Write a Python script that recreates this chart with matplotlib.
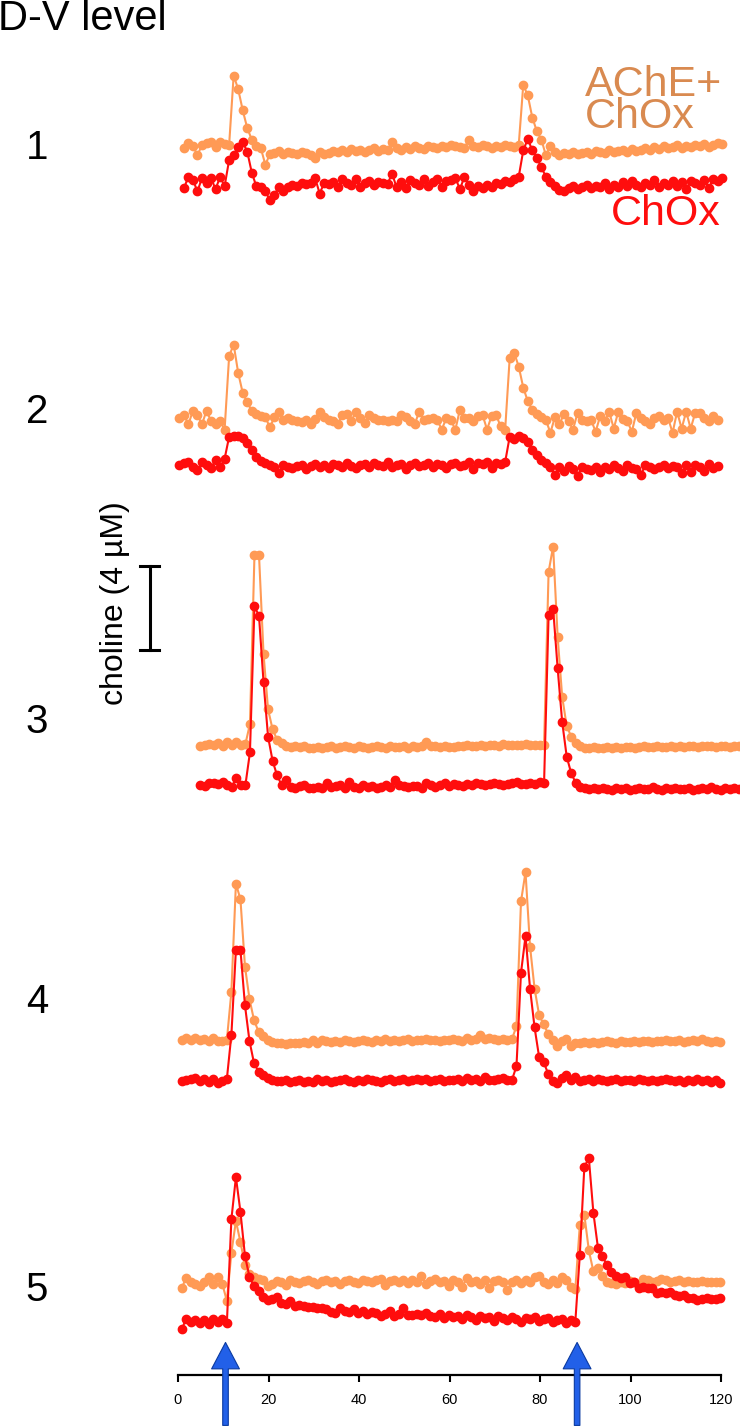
import numpy as np
import matplotlib
matplotlib.use("Agg")
import matplotlib.pyplot as plt

plt.rcParams["font.family"] = ["Liberation Sans", "DejaVu Sans"]

# choline traces, uM relative to each trace's own baseline, sampled at 1 Hz
panel_labels = ["1", "2", "3", "4", "5"]
panel_t0 = [1.3, 0.3, 4.9, 0.8, 0.8]   # time of first sample (s)

p1_ache = [0.0, 0.25, 0.1, -0.35, 0.15, 0.25, 0.3, 0.05, 0.3, 0.2, 0.15,
           3.45, 2.8, 1.8, 0.95, 0.4, 0.1, 0.0, -0.8, -0.3,
           -0.25, -0.15, -0.3, -0.2, -0.25, -0.3, -0.2, -0.25, -0.35, -0.5,
           -0.2, -0.3, -0.25, -0.15, -0.2, -0.1, -0.2, -0.05, -0.15, -0.1,
           -0.2, -0.1, 0.0, -0.15, -0.05, -0.1, 0.3, 0.0, -0.1, 0.05,
           -0.05, 0.1, 0.0, -0.05, 0.1, 0.05, 0.0, 0.1, 0.05, 0.15,
           0.1, 0.05, 0.0, 0.4, 0.1, 0.05, 0.15, 0.1, 0.0, 0.1,
           0.05, 0.15, 0.1, 0.05, 0.15,
           3.0, 2.5, 1.45, 0.8, 0.4, -0.35, 0.1,
           -0.2, -0.35, -0.25, -0.3, -0.2, -0.3, -0.25, -0.2, -0.3, -0.15,
           -0.2, -0.25, -0.1, -0.2, -0.15, -0.1, -0.2, -0.05, -0.15, -0.1,
           0.0, -0.1, 0.05, -0.05, 0.1, 0.0, 0.05, 0.15, 0.0, 0.1,
           0.05, 0.15, 0.1, 0.2, 0.05, 0.15, 0.25, 0.2]
p1_chox = [-0.25, 0.3, 0.15, -0.4, 0.25, 0.0, 0.25, -0.3, 0.3, -0.15,
           1.1, 1.35, 1.7, 1.95,
           1.5, 0.5, -0.15, -0.2, -0.4, -0.8, -0.55, -0.2, -0.4, -0.2,
           -0.1, -0.15, 0.0, -0.05, 0.0, 0.25, -0.5, 0.0, -0.05, 0.05,
           -0.2, 0.2, 0.0, -0.1, 0.2, -0.2, 0.0, 0.1, -0.1, 0.05,
           0.0, -0.05, 0.45, -0.2, 0.05, -0.25, 0.15, 0.0, -0.1, 0.2,
           -0.15, 0.05, 0.2, -0.2, 0.1, 0.15, 0.25, -0.3, 0.3, -0.1,
           -0.4, -0.15, -0.25, -0.1, -0.2, 0.0, -0.05, 0.1, 0.05, 0.2,
           0.3,
           1.55, 2.1, 1.55, 1.2, 0.75, 0.3, 0.05, -0.15, -0.35, -0.4,
           -0.25, -0.15, -0.3, -0.2, -0.1, -0.25, -0.15, -0.2, 0.0, -0.3,
           -0.1, -0.2, 0.05, -0.15, 0.1, -0.1, -0.2, 0.0, -0.1, 0.15,
           -0.2, 0.0, -0.1, 0.1, -0.15, 0.05, -0.3, 0.1, 0.0, -0.1,
           0.15, -0.25, 0.2, 0.1, 0.25]

p2_ache = [0.0, 0.15, -0.3, 0.35, 0.15, -0.3, 0.35, -0.15, -0.3, -0.15, -0.55,
           2.95, 3.5, 2.15, 1.2, 0.75, 0.35, 0.2, 0.1, 0.05, -0.45,
           0.05, 0.3, -0.1, 0.0, -0.1, -0.15, -0.2, -0.1, -0.3, -0.05, 0.3,
           0.05, -0.1, -0.15, -0.3, 0.15, 0.2, -0.15, 0.3, 0.0, -0.25,
           0.15, 0.0, -0.1, -0.1, -0.15, -0.1, -0.15, 0.15, 0.05, -0.15,
           -0.3, 0.3, -0.1, -0.05, 0.0, -0.1, -0.55, 0.0, -0.1, -0.55,
           0.4, 0.0, 0.0, -0.15, 0.1, 0.15, -0.55, 0.1, 0.15, -0.4,
           -0.55,
           2.85, 3.1, 2.45, 1.45, 0.8, 0.4, 0.2, 0.05, -0.1, -0.7,
           0.05, -0.3, 0.2, -0.15, -0.55, 0.25, -0.1, -0.15, -0.1, -0.65,
           0.1, -0.15, 0.3, -0.5, 0.3, -0.05, -0.15, -0.65, 0.25, 0.0,
           -0.15, -0.3, 0.0, 0.1, -0.1, 0.0, -0.7, 0.3, -0.5, 0.3,
           -0.5, 0.25, 0.25, 0.0, -0.15, 0.1, -0.1]
p2_chox = [0.0, 0.1, 0.15, -0.1, -0.25, 0.15, 0.0, -0.15, 0.25, -0.1, 0.3,
           1.35, 1.4, 1.4, 1.3, 1.05, 0.7, 0.4, 0.2, 0.1, 0.0, -0.1, -0.4,
           0.0, -0.1, -0.15, -0.05, 0.0, -0.2, -0.05, 0.05, -0.1, 0.0,
           -0.15, 0.05, 0.0, -0.1, 0.1, -0.05, -0.15, 0.0, 0.05, -0.1,
           0.1, 0.0, -0.05, 0.15, -0.1, 0.0, 0.05, -0.2, 0.0, 0.1,
           -0.05, 0.0, 0.1, -0.1, 0.05, 0.0, -0.15, 0.05, 0.1, -0.05,
           0.0, 0.15, -0.2, 0.1, 0.05, 0.15, -0.15, 0.1, 0.05, 0.15,
           1.35, 1.25, 1.4, 1.3, 1.1, 0.7, 0.5, 0.25, 0.1, -0.1, -0.45,
           -0.1, -0.3, -0.05, -0.2, -0.5, -0.1, -0.2, -0.25, -0.1, -0.35,
           -0.1, -0.2, 0.0, -0.15, -0.3, 0.0, -0.15, -0.2, -0.45, 0.0,
           -0.1, -0.2, -0.1, 0.0, -0.15, -0.05, -0.1, -0.4, 0.0, -0.35,
           0.0, -0.1, -0.3, 0.05, -0.15, -0.05]

p3_ache = [0.0, 0.05, 0.1, 0.05, 0.15, 0.0, 0.2, 0.05, 0.2, 0.05, 0.1,
           1.05, 9.1, 9.1, 4.4, 1.75, 0.8, 0.3, 0.15, 0.0,
           -0.05, 0.0, -0.05, 0.0, -0.1, -0.1, -0.05, -0.1, -0.05, 0.0,
           -0.1, -0.05, 0.0, -0.05, -0.1, 0.0, -0.05, -0.1, -0.05, 0.0,
           -0.05, -0.1, 0.0, -0.05, -0.05, 0.0, -0.1, 0.0, -0.05, 0.0,
           0.2, 0.0, 0.0, -0.05, 0.0, -0.05, -0.05, 0.0, 0.0, 0.05,
           0.0, 0.0, 0.05, 0.0, 0.05, 0.05, 0.0, 0.1, 0.05, 0.05,
           0.05, 0.05, 0.1, 0.05, 0.05, 0.05,
           0.05,
           8.3, 9.5, 5.2, 2.35, 0.95, 0.45, 0.15, 0.0, -0.1,
           -0.1, -0.05, -0.1, -0.1, -0.05, -0.1, -0.05, -0.1, -0.05, -0.05,
           -0.1, -0.05, 0.0, -0.05, -0.05, 0.0, -0.05, -0.05, 0.0, -0.05,
           0.0, -0.05, 0.0, 0.0, -0.05, 0.0, 0.0, 0.0, -0.05, 0.0,
           0.0, -0.05, 0.0, 0.0]
p3_chox = [0.0, -0.05, 0.1, 0.1, 0.05, 0.15, 0.0, -0.1, 0.35, 0.0, 0.0,
           1.55, 8.5, 8.05, 4.9, 2.3, 1.15, 0.45, 0.0, 0.25, -0.1, -0.15,
           -0.05, 0.0, -0.15, -0.15, -0.1, -0.15, 0.1, -0.1, -0.05, 0.0,
           -0.15, 0.15, -0.1, -0.15, 0.0, -0.1, -0.05, -0.15, -0.1, 0.0,
           -0.1, 0.25, 0.0, -0.05, -0.1, -0.05, -0.05, -0.15, 0.1, 0.0,
           -0.1, 0.0, 0.1, -0.05, 0.05, 0.0, -0.05, 0.05, 0.0, 0.1,
           0.05, 0.0, 0.05, 0.1, 0.05, 0.0, 0.05, 0.1, 0.15, 0.05,
           0.05, 0.1, 0.05, 0.15,
           0.1,
           8.1, 8.4, 5.55, 3.0, 1.35, 0.55, 0.1, -0.1, -0.15, -0.2,
           -0.15, -0.2, -0.15, -0.2, -0.25, -0.15, -0.2, -0.15, -0.25, -0.2,
           -0.15, -0.2, -0.2, -0.1, -0.2, -0.25, -0.15, -0.2, -0.15, -0.2,
           -0.2, -0.15, -0.25, -0.2, -0.15, -0.2, -0.1, -0.2, -0.25, -0.15,
           -0.2, -0.15, -0.2]

p4_ache = [0.0, 0.1, 0.0, 0.1, 0.0, 0.05, -0.05, 0.1, -0.05, -0.05, 0.0,
           2.3, 7.45, 6.7, 3.5, 1.95, 0.95, 0.4, 0.2,
           0.0, -0.1, -0.15, -0.15, -0.2, -0.15, -0.15, -0.15, -0.1, -0.15,
           0.0, -0.15, 0.0, -0.05, -0.1, -0.05, -0.1, 0.0, -0.05, -0.1,
           -0.05, 0.0, -0.05, -0.1, 0.0, -0.05, 0.05, -0.05, 0.0, -0.05,
           0.0, 0.05, -0.05, 0.0, 0.0, 0.05, 0.0, 0.0, -0.05, 0.0,
           0.0, 0.05, 0.0, -0.05, 0.1, 0.0, 0.05, 0.25, 0.05, 0.1,
           0.05, 0.0, 0.05, 0.0, 0.05,
           0.65,
           6.6, 8.0, 4.45, 2.45, 1.2, 0.75, 0.3,
           0.0, -0.3, -0.05, 0.05, -0.3, -0.15, -0.15, -0.1, -0.15, -0.1,
           -0.15, -0.1, -0.05, -0.1, -0.15, -0.05, -0.1, -0.1, -0.05, -0.1,
           -0.05, -0.05, -0.1, -0.05, -0.05, 0.0, -0.05, -0.05, 0.0, -0.1,
           -0.05, 0.0, -0.05, 0.05, -0.05, -0.1, -0.05, -0.1]
p4_chox = [-0.05, 0.0, 0.05, 0.1, -0.05, 0.05, -0.1, 0.05, -0.15, -0.05, 0.05,
           2.15, 6.2, 6.2, 3.55, 1.85, 0.8, 0.4, 0.25, 0.1,
           0.0, -0.05, -0.05, 0.0, -0.1, -0.05, 0.0, -0.1, -0.05, -0.1,
           0.05, -0.05, 0.0, -0.1, -0.05, 0.0, 0.05, -0.05, -0.1, 0.0,
           -0.05, 0.05, 0.0, -0.05, -0.1, 0.0, 0.05, -0.05, 0.0, 0.05,
           -0.05, 0.0, 0.05, 0.0, 0.05, -0.05, 0.0, 0.05, -0.05, 0.0,
           0.0, 0.05, -0.05, 0.1, 0.0, 0.05, -0.05, 0.15, 0.0, 0.0,
           0.05, 0.1, 0.0, 0.0,
           0.65,
           5.1, 6.85, 4.35, 2.5, 1.1, 0.85, 0.3, -0.05, -0.15,
           0.1, 0.25, 0.0, 0.15, -0.05, 0.0, 0.05, -0.05, 0.05, 0.0,
           -0.05, 0.0, 0.05, -0.05, 0.0, 0.0, -0.05, 0.05, 0.0, -0.05,
           0.0, -0.05, 0.0, 0.05, 0.0, -0.05, 0.0, -0.1, 0.0, -0.05,
           0.05, -0.05, 0.0, -0.1, 0.0, -0.15]

p5_ache = [-0.3, 0.2, 0.0, -0.1, -0.2, 0.0, 0.25, -0.1, 0.25, -0.1,
           -0.9,
           1.4, 2.9, 1.9, 0.8, 0.4, 0.25, 0.15, 0.1, -0.2, -0.1,
           0.05, 0.0, -0.15, 0.1, 0.0, -0.05, 0.05, 0.1, 0.0, -0.1,
           0.05, 0.1, 0.0, 0.05, -0.1, 0.05, 0.1, 0.0, -0.05, 0.1,
           0.05, 0.0, 0.1, 0.15, -0.15, 0.05, 0.1, 0.0, 0.1, -0.05,
           0.1, 0.0, 0.3, -0.1, 0.05, 0.15, 0.0, 0.05, -0.2, 0.1,
           0.0, -0.25, 0.2, 0.0, 0.05, -0.1, 0.1, -0.3, 0.05, 0.1,
           0.0, -0.4, 0.0, 0.1, -0.05, 0.1, 0.0, 0.25, 0.3, 0.0,
           -0.1, 0.1, -0.05, 0.25, 0.1, -0.25, -0.35,
           2.7, 3.2, 1.5, 0.5, 0.65, 0.3, 0.0, -0.05,
           -0.1, 0.0, -0.05, 0.05, 0.0, -0.1, 0.15, 0.1, 0.0, 0.05,
           0.15, 0.1, 0.0, 0.05, 0.1, 0.0, 0.05, 0.0, 0.0, 0.05,
           0.0, 0.0, 0.0, 0.0]
p5_chox = [-0.45, 0.05, -0.1, 0.0, -0.15, 0.0, -0.2, 0.05, -0.1, 0.05, -0.15,
           4.8, 6.8, 5.15, 3.05, 2.05, 1.6, 1.4, 1.1, 0.95, 1.0,
           1.1, 0.8, 0.75, 0.9, 0.65, 0.7, 0.65, 0.6, 0.6, 0.55,
           0.55, 0.5, 0.4, 0.35, 0.55, 0.45, 0.4, 0.5, 0.35, 0.45,
           0.3, 0.4, 0.35, 0.2, 0.3, 0.45, 0.2, 0.3, 0.55, 0.25,
           0.25, 0.3, 0.25, 0.35, 0.2, 0.15, 0.3, 0.1, 0.25, 0.15,
           0.2, 0.05, 0.25, 0.15, 0.0, 0.2, 0.1, 0.15, -0.05, 0.2,
           0.1, 0.0, 0.15, 0.05, -0.1, 0.1, 0.05, 0.15, -0.05, 0.05,
           0.1, -0.1, 0.0, 0.05, -0.15, 0.0, -0.1,
           3.1, 7.3, 7.7, 5.1, 3.45, 3.05, 2.6, 2.3, 2.1, 2.0,
           2.05, 1.75, 1.8, 1.5, 1.55, 1.5, 1.5, 1.3, 1.35, 1.3,
           1.35, 1.2, 1.15, 1.2, 1.05, 1.05, 0.95, 1.0, 1.05, 1.0,
           1.0, 1.05]

ache_traces = [p1_ache, p2_ache, p3_ache, p4_ache, p5_ache]
chox_traces = [p1_chox, p2_chox, p3_chox, p4_chox, p5_chox]
stim_times = [10.5, 88.2]
x_ticks = [0, 20, 40, 60, 80, 100, 120]

# layout: vertical placement of each trace (uM above the time axis)
ache_offsets = [58.43, 45.57, 29.95, 15.95, 4.43]
chox_offsets = [56.76, 43.33, 28.10, 14.05, 2.62]
label_y_px = [148, 412, 722, 1002, 1290]

ORANGE = "#ff9a55"
RED = "#ff0d0d"

W, H = 740, 1428
fig = plt.figure(figsize=(W / 100, H / 100), dpi=100)
px_per_um = 21.0
axis_px = 1375
ax = fig.add_axes([178 / W, (H - axis_px) / H, 543 / W, axis_px / H])
ax.set_xlim(0, 120)
ax.set_ylim(0, axis_px / px_per_um)

for i in range(5):
    for vals, off, col in [(ache_traces[i], ache_offsets[i], ORANGE),
                           (chox_traces[i], chox_offsets[i], RED)]:
        t = panel_t0[i] + np.arange(len(vals))
        ax.plot(t, np.array(vals) + off, "-o", color=col, lw=1.5, ms=6,
                mec=col, clip_on=False)
    fig.text(37 / W, 1 - label_y_px[i] / H, panel_labels[i], fontsize=29,
             ha="center", va="center")

for s in ["top", "right", "left"]:
    ax.spines[s].set_visible(False)
ax.spines["bottom"].set_linewidth(1.6)
ax.set_yticks([])
ax.set_xticks(x_ticks)
ax.tick_params(axis="x", direction="out", length=5, width=1.5, labelsize=10.5, pad=8)

# stimulus arrows
for st in stim_times:
    ax.annotate("", xy=(st, 1.55), xytext=(st, -2.4),
                arrowprops=dict(arrowstyle="simple,head_width=1.0,head_length=0.95,tail_width=0.2",
                                fc="#2260e8", ec="#0a3aa0", lw=0.8, mutation_scale=20,
                                shrinkA=0, shrinkB=0),
                annotation_clip=False)

# scale bar 4 uM
sb_x, sb_bottom = -6.2, 34.52
ax.plot([sb_x, sb_x], [sb_bottom, sb_bottom + 4], color="black", lw=2.2, clip_on=False)
for yy in [sb_bottom, sb_bottom + 4]:
    ax.plot([sb_x - 2.1, sb_x + 2.1], [yy, yy], color="black", lw=2.2, clip_on=False)
fig.text(115 / W, 1 - 603 / H, "choline (4 µM)", rotation=90, fontsize=23,
         ha="center", va="center")

fig.text(-2 / W, 1 - 19 / H, "D-V level", fontsize=30, ha="left", va="center")
fig.text(585 / W, 1 - 101 / H, "AChE+\nChOx", fontsize=31, color="#d98a50",
         ha="left", va="center", ma="left", linespacing=0.72)
fig.text(721 / W, 1 - 214 / H, "ChOx", fontsize=31, color=RED, ha="right", va="center")

fig.savefig("out.png", dpi=100)
